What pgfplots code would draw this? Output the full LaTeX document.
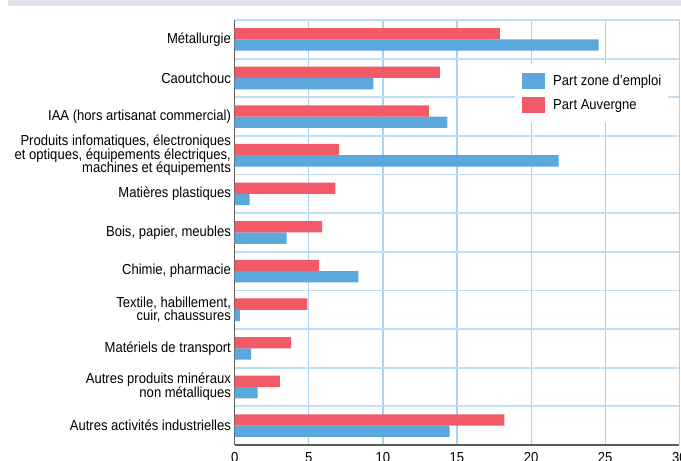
\documentclass[border=0pt]{standalone}
\usepackage{fontspec}
\setmainfont{Liberation Sans}[FakeStretch=0.9]
\usepackage{pgfplots}
\pgfplotsset{compat=1.18}

\definecolor{zoneblue}{HTML}{5BA8DC}
\definecolor{auvred}{HTML}{F15A66}
\definecolor{gridblue}{HTML}{A8D4F1}
\definecolor{bandlav}{HTML}{E5E0EE}
\definecolor{axisgray}{HTML}{5A5A5A}

\begin{document}
\begin{tikzpicture}[font=\fontsize{14.5bp}{13.8bp}\selectfont]
% bandeau du titre (coupe)
\fill[bandlav] (8bp,455.3bp) rectangle (681bp,461bp);
\begin{axis}[
    at={(234.7bp,16bp)}, anchor=south west,
    scale only axis,
    width=444.6bp, height=425bp,
    xbar, bar width=11.3bp,
    xmin=0, xmax=30, ymin=-0.5, ymax=10.5,
    xtick={0,5,...,30},
    ytick={0,...,10},
    yticklabels={
        {Autres activités industrielles},
        {Autres produits minéraux\\non métalliques},
        {Matériels de transport},
        {Textile, habillement,\\cuir, chaussures},
        {Chimie, pharmacie},
        {Bois, papier, meubles},
        {Matières plastiques},
        {Produits infomatiques, électroniques\\et optiques, équipements électriques,\\machines et équipements},
        {IAA (hors artisanat commercial)},
        {Caoutchouc},
        {Métallurgie}},
    minor ytick={-0.5,0.5,...,10.5},
    xmajorgrids, yminorgrids,
    major grid style={gridblue, line width=1.2bp},
    minor grid style={gridblue!75, line width=1.8bp},
    axis x line*=bottom, axis y line*=left,
    axis line style={-, axisgray, line width=1.3bp},
    major tick length=0pt, minor tick length=0pt,
    /pgf/number format/assume math mode=true,
    yticklabel style={align=right, inner sep=0pt, xshift=-3.6bp},
    xticklabel style={inner sep=0pt, yshift=-7bp},
    legend image code/.code={\fill[#1] (0bp,-8bp) rectangle (23bp,8bp);},
    legend cell align=left,
    legend style={at={(0.6305,0.8965)}, anchor=north west,
        draw=none, fill=white, inner xsep=7bp, inner ysep=9bp,
        row sep=8bp, nodes={inner sep=0pt, anchor=west},
        /tikz/every odd column/.append style={column sep=8bp}},
]
\addplot[draw=none, fill=zoneblue, bar shift=-5.65bp] coordinates {
    (14.5,0) (1.55,1) (1.1,2) (0.35,3) (8.35,4) (3.5,5)
    (1.0,6) (21.85,7) (14.35,8) (9.35,9) (24.55,10)};
\addlegendentry{Part zone d’emploi}
\addplot[draw=none, fill=auvred, bar shift=5.65bp] coordinates {
    (18.2,0) (3.05,1) (3.8,2) (4.9,3) (5.7,4) (5.9,5)
    (6.8,6) (7.05,7) (13.1,8) (13.85,9) (17.9,10)};
\addlegendentry{Part Auvergne}
\end{axis}
\pgfresetboundingbox
\path[use as bounding box] (0,0) rectangle (681bp,461bp);
\end{tikzpicture}
\end{document}
